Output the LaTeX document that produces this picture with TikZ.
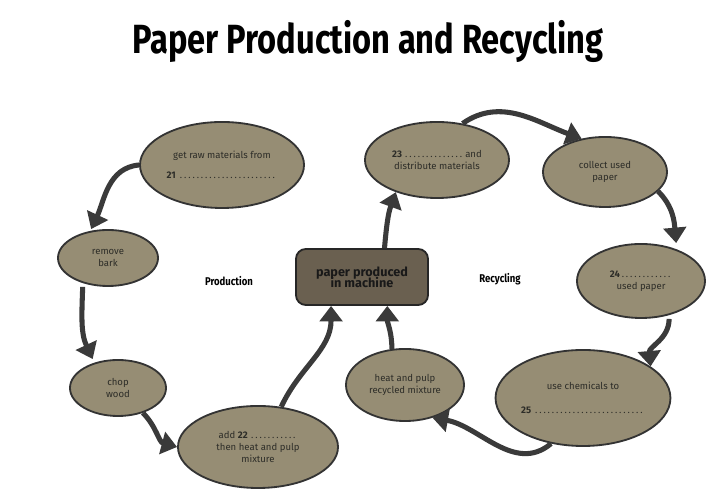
\documentclass[tikz,border=0pt]{standalone}
\usepackage{fontspec}
\setmainfont{Fira Sans}
\usepackage{tikz}
\usetikzlibrary{shapes, arrows.meta, positioning}
\definecolor{khaki}{RGB}{150, 141, 116}
\definecolor{machinebrown}{RGB}{106, 96, 80}
\definecolor{arrowgrey}{RGB}{58, 58, 58}
\definecolor{textgrey}{RGB}{45, 45, 40}

\begin{document}
\begin{tikzpicture}[
  x=0.025cm, y=0.025cm,
  stage/.style={ellipse, draw=black!80, line width=1.3pt, fill=khaki, align=center, inner sep=0pt, font=\fontsize{6.8}{8.2}\selectfont\color{textgrey}},
  hub/.style={draw=black!85, line width=1.3pt, fill=machinebrown, rounded corners=7pt, minimum width=3.3cm, minimum height=1.4cm, align=center, font=\bfseries\small\color{black!90}},
  side/.style={font=\bfseries\footnotesize},
  flow/.style={draw=arrowgrey, line width=3.6pt, -{Triangle[width=16pt,length=11pt]}}
]
  \useasboundingbox (0,0) rectangle (712,490);

  \node[font=\bfseries\fontsize{29}{32}\selectfont] (title) at (368,448) {\scalebox{0.8}[1]{Paper Production and Recycling}};

  % production side
  \node[stage, minimum width=4.1cm, minimum height=2.15cm] (raw) at (222,325) {get raw materials from\\[6pt]\textbf{21}\,\makebox[2.5cm]{\dotfill}};
  \node[stage, minimum width=2.5cm, minimum height=1.4cm] (bark) at (108,232) {remove\\bark};
  \node[stage, minimum width=2.4cm, minimum height=1.4cm] (chop) at (118,102) {chop\\wood};
  \node[stage, minimum width=4.0cm, minimum height=2.05cm] (add) at (258,43) {add \textbf{22}\,\makebox[1.2cm]{\dotfill}\\then heat and pulp\\mixture};

  \node[hub] (machine) at (362,213) {paper produced\\[-3pt]in machine};
  \node[side] (prod) at (229,209) {\scalebox{0.85}[1]{Production}};
  \node[side] (recy) at (500,211) {\scalebox{0.85}[1]{Recycling}};

  % recycling side
  \node[stage, minimum width=3.6cm, minimum height=1.9cm] (dist) at (437,330) {\textbf{23}\,\makebox[1.5cm]{\dotfill}\,and\\distribute materials};
  \node[stage, minimum width=3.1cm, minimum height=1.75cm] (collect) at (605,318) {collect used\\paper};
  \node[stage, minimum width=3.2cm, minimum height=1.85cm] (used) at (641,209) {\textbf{24}\makebox[1.3cm]{\dotfill}\\used paper};
  \node[stage, minimum width=4.25cm, minimum height=2.4cm] (chem) at (583,92) {use chemicals to\\[9pt]\textbf{25}\,\makebox[2.8cm]{\dotfill}};
  \node[stage, minimum width=2.95cm, minimum height=1.8cm] (heat) at (405,105) {heat and pulp\\recycled mixture};

  % arrows
  \draw[flow] (raw.west) to[out=185,in=65] ([xshift=-12]bark.north);
  \draw[flow] ([xshift=-18]bark.south) to[out=-92,in=115] ([xshift=-18]chop.north);
  \draw[flow] (chop.-45) to[out=-45,in=165] (add.west);
  \draw[flow] (add.60) to[out=65,in=-90] ([xshift=-22]machine.south);
  \draw[flow] (heat.110) to[out=90,in=-90] ([xshift=18]machine.south);
  \draw[flow] ([xshift=16]machine.north) to[out=85,in=-110] (dist.218);
  \draw[flow] (dist.55) to[out=35,in=160] (collect.125);
  \draw[flow] (collect.-20) to[out=-45,in=95] ([xshift=25]used.north);
  \draw[flow] ([xshift=20]used.south) to[out=-90,in=95] (chem.25);
  \draw[flow] (chem.235) to[out=-140,in=-10] (heat.-50);
\end{tikzpicture}
\end{document}
